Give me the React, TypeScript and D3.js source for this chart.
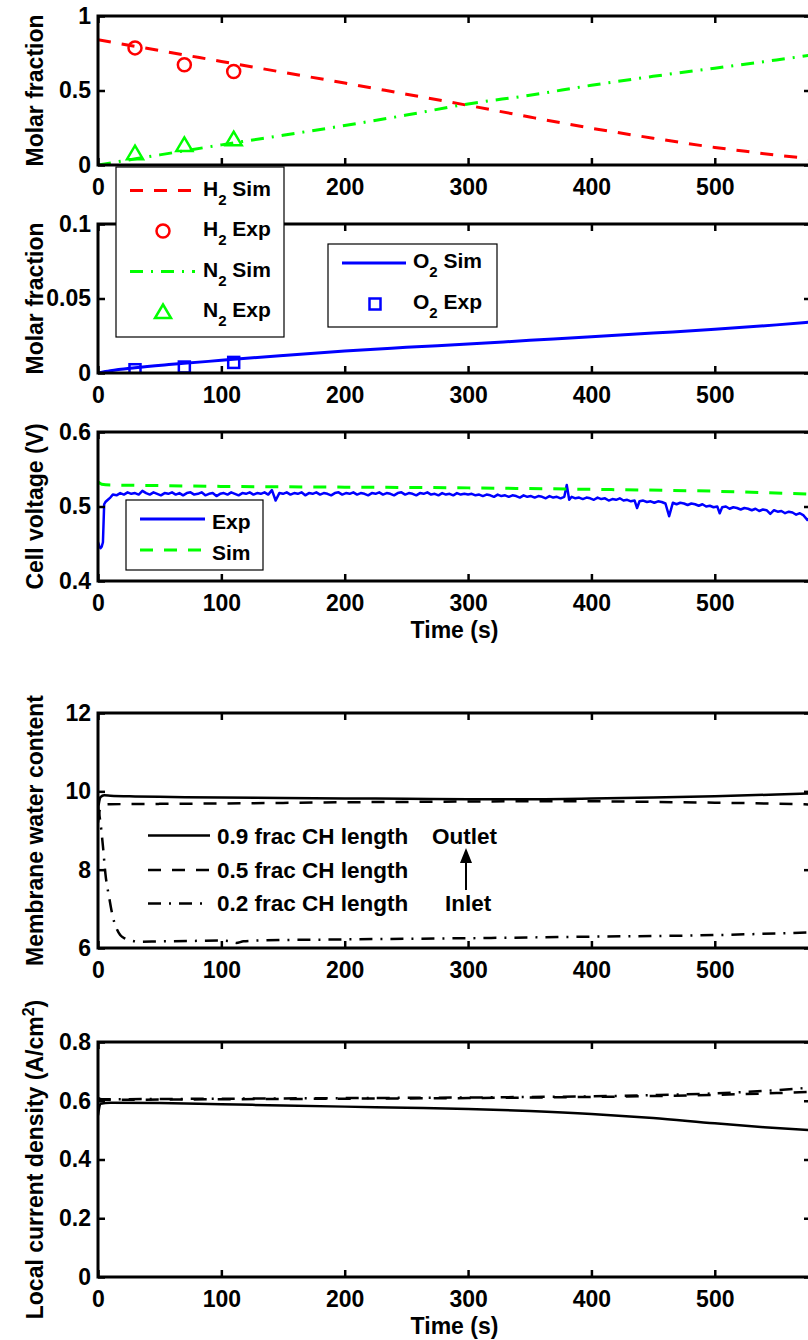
import React, { useEffect, useRef } from "react";
import * as d3 from "d3";

// ---------------- Data ----------------
const xTicks = [0, 100, 200, 300, 400, 500];
const xDomain = [0, 578];

// Panel 1: molar fraction (anode)
const h2SimTime = [0, 50, 100, 150, 200, 250, 300, 350, 400, 450, 500, 525, 550, 578];
const h2SimValue = [0.84, 0.768, 0.695, 0.622, 0.55, 0.475, 0.4, 0.322, 0.247, 0.18, 0.118, 0.092, 0.066, 0.045];
const h2ExpTime = [30, 70, 110];
const h2ExpValue = [0.786, 0.673, 0.628];
const n2SimTime = [0, 50, 100, 150, 200, 250, 300, 350, 400, 450, 500, 550, 578];
const n2SimValue = [0, 0.068, 0.135, 0.2, 0.265, 0.335, 0.41, 0.468, 0.535, 0.595, 0.65, 0.705, 0.738];
const n2ExpTime = [30, 70, 110];
const n2ExpValue = [0.079, 0.135, 0.173];

// Panel 2: O2
const o2SimTime = [0, 10, 30, 60, 100, 150, 200, 250, 300, 350, 400, 450, 500, 550, 578];
const o2SimValue = [0, 0.0015, 0.0035, 0.0058, 0.0085, 0.0118, 0.0148, 0.0172, 0.0195, 0.0219, 0.0243, 0.0268, 0.0293, 0.0323, 0.0342];
const o2ExpTime = [30, 70, 110];
const o2ExpValue = [0.0022, 0.004, 0.0071];

// Panel 3: cell voltage
const vSimTime = [0, 3, 10, 50, 100, 200, 300, 400, 500, 578];
const vSimValue = [0.533, 0.53, 0.529, 0.528, 0.527, 0.526, 0.525, 0.523, 0.5205, 0.5165];
// measured voltage as [time, value] pairs
const vExp: [number, number][] = [
  [0, 0.452], [1, 0.447], [2, 0.444], [3, 0.446], [4, 0.452], [5, 0.503], [6, 0.506], [8, 0.509], [10, 0.512], [12, 0.516],
  [15, 0.515], [18, 0.518], [21, 0.516], [24, 0.519], [27, 0.517], [30, 0.518], [33, 0.516], [36, 0.521], [39, 0.518], [42, 0.516],
  [45, 0.519], [48, 0.517], [51, 0.515], [54, 0.518], [57, 0.517], [60, 0.519], [63, 0.516], [66, 0.518], [69, 0.515], [72, 0.518],
  [75, 0.519], [78, 0.516], [81, 0.517], [84, 0.519], [87, 0.515], [90, 0.517], [93, 0.518], [96, 0.514], [99, 0.517], [102, 0.518],
  [105, 0.516], [108, 0.519], [111, 0.517], [114, 0.515], [117, 0.518], [120, 0.517], [123, 0.519], [126, 0.516], [129, 0.518], [132, 0.517],
  [135, 0.519], [138, 0.516], [141, 0.522], [144, 0.508], [147, 0.518], [150, 0.517], [153, 0.519], [156, 0.516], [159, 0.518], [162, 0.517],
  [165, 0.519], [168, 0.515], [171, 0.518], [174, 0.517], [177, 0.519], [180, 0.516], [183, 0.518], [186, 0.517], [189, 0.515], [192, 0.518],
  [195, 0.519], [198, 0.516], [201, 0.518], [204, 0.517], [207, 0.519], [210, 0.516], [213, 0.518], [216, 0.517], [219, 0.515], [222, 0.518],
  [225, 0.517], [228, 0.519], [231, 0.516], [234, 0.518], [237, 0.517], [240, 0.515], [243, 0.518], [246, 0.519], [249, 0.516], [252, 0.518],
  [255, 0.517], [258, 0.515], [261, 0.518], [264, 0.517], [267, 0.519], [270, 0.516], [273, 0.517], [276, 0.515], [279, 0.518], [282, 0.516],
  [285, 0.517], [288, 0.515], [291, 0.518], [294, 0.516], [297, 0.517],
  [300, 0.516], [303, 0.517], [306, 0.515], [309, 0.516], [312, 0.514], [315, 0.516], [318, 0.515], [321, 0.513], [324, 0.516], [327, 0.514],
  [330, 0.515], [333, 0.513], [336, 0.515], [339, 0.514], [342, 0.512], [345, 0.515], [348, 0.513], [351, 0.514], [354, 0.512], [357, 0.514],
  [360, 0.513], [363, 0.511], [366, 0.514], [369, 0.512], [372, 0.513], [375, 0.511], [378, 0.513], [380, 0.529], [382, 0.509], [384, 0.513],
  [387, 0.511], [390, 0.512], [393, 0.51], [396, 0.512], [399, 0.511], [402, 0.509], [405, 0.512], [408, 0.51], [411, 0.511], [414, 0.508],
  [417, 0.51], [420, 0.509], [423, 0.511], [426, 0.508], [429, 0.509], [432, 0.507], [435, 0.508], [437, 0.498], [439, 0.507], [442, 0.508],
  [445, 0.506], [448, 0.507], [451, 0.505], [454, 0.507], [457, 0.506], [460, 0.504], [463, 0.487], [466, 0.505], [469, 0.503], [472, 0.505],
  [475, 0.504], [478, 0.502], [481, 0.504], [484, 0.503], [487, 0.501], [490, 0.503], [493, 0.5], [496, 0.501], [499, 0.499], [502, 0.5],
  [504, 0.491], [506, 0.499], [509, 0.5], [512, 0.497], [515, 0.499], [518, 0.498], [521, 0.496], [524, 0.498], [527, 0.497], [530, 0.495],
  [533, 0.497], [536, 0.494], [539, 0.496], [542, 0.495], [545, 0.49], [548, 0.495], [551, 0.493], [554, 0.494], [557, 0.491], [560, 0.493],
  [563, 0.492], [566, 0.489], [569, 0.491], [572, 0.488], [575, 0.482], [578, 0.486],
];

// Panel 4: membrane water content
const w09Time = [0, 2, 5, 10, 30, 60, 100, 150, 200, 250, 300, 350, 400, 450, 500, 550, 578];
const w09Value = [9.55, 9.85, 9.9, 9.89, 9.87, 9.855, 9.84, 9.83, 9.82, 9.81, 9.8, 9.8, 9.815, 9.84, 9.875, 9.92, 9.95];
const w05Time = [0, 2, 4, 10, 50, 100, 150, 200, 250, 300, 350, 400, 450, 500, 550, 578];
const w05Value = [9.2, 9.6, 9.66, 9.67, 9.68, 9.69, 9.705, 9.72, 9.73, 9.74, 9.745, 9.745, 9.73, 9.71, 9.685, 9.665];
const w02Time = [0, 2, 4, 6, 9, 12, 15, 18, 22, 27, 33, 50, 75, 100, 108, 112, 118, 130, 200, 300, 400, 500, 578];
const w02Value = [9.6, 9.2, 8.6, 7.9, 7.3, 6.8, 6.5, 6.33, 6.24, 6.19, 6.16, 6.17, 6.18, 6.19, 6.17, 6.13, 6.17, 6.19, 6.22, 6.25, 6.29, 6.33, 6.4];

// Panel 5: local current density
const c09Time = [0, 2, 10, 50, 100, 150, 200, 250, 300, 350, 400, 450, 500, 540, 578];
const c09Value = [0.55, 0.59, 0.593, 0.592, 0.588, 0.584, 0.58, 0.576, 0.572, 0.565, 0.555, 0.541, 0.523, 0.51, 0.5];
const c05Time = [0, 3, 50, 100, 150, 200, 250, 300, 350, 400, 450, 500, 550, 578];
const c05Value = [0.598, 0.603, 0.604, 0.605, 0.606, 0.607, 0.608, 0.609, 0.611, 0.613, 0.616, 0.62, 0.626, 0.63];
const c02Time = [0, 3, 50, 100, 150, 200, 250, 300, 350, 400, 450, 500, 550, 578];
const c02Value = [0.61, 0.605, 0.606, 0.607, 0.608, 0.609, 0.61, 0.611, 0.613, 0.615, 0.619, 0.625, 0.636, 0.645];

const yTicks1 = [0, 0.5, 1];
const yTicks2 = [0, 0.05, 0.1];
const yTicks3 = [0.4, 0.5, 0.6];
const yTicks4 = [6, 8, 10, 12];
const yTicks5 = [0, 0.2, 0.4, 0.6, 0.8];

// ---------------- Style / layout ----------------
const FONT = "'Liberation Sans', Arial, Helvetica, sans-serif";
const LEFT = 98;
const RIGHT = 811;
const RED = "#ff0000";
const GREEN = "#00ff00";
const BLUE = "#0000ff";
const DASH = "13 11";
const DASHDOT = "13 8 2 8";

type Series = { t: number[]; v: number[]; color: string; dash?: string; width: number; curve?: boolean };
type Markers = { t: number[]; v: number[]; color: string; shape: "circle" | "triangle" | "square" };

export default function App() {
  const ref = useRef<SVGSVGElement | null>(null);

  useEffect(() => {
    const svg = d3.select(ref.current);
    svg.selectAll("*").remove();

    const x = d3.scaleLinear().domain(xDomain).range([LEFT, RIGHT]);

    const panels = [
      {
        top: 16, bottom: 165, yDomain: [0, 1], yTicks: yTicks1, label: "Molar fraction", hideX: [100],
        series: [
          { t: h2SimTime, v: h2SimValue, color: RED, dash: DASH, width: 3, curve: true },
          { t: n2SimTime, v: n2SimValue, color: GREEN, dash: DASHDOT, width: 3, curve: true },
        ] as Series[],
        markers: [
          { t: h2ExpTime, v: h2ExpValue, color: RED, shape: "circle" },
          { t: n2ExpTime, v: n2ExpValue, color: GREEN, shape: "triangle" },
        ] as Markers[],
      },
      {
        top: 224, bottom: 373, yDomain: [0, 0.1], yTicks: yTicks2, label: "Molar fraction",
        series: [{ t: o2SimTime, v: o2SimValue, color: BLUE, width: 3, curve: true }] as Series[],
        markers: [{ t: o2ExpTime, v: o2ExpValue, color: BLUE, shape: "square" }] as Markers[],
      },
      {
        top: 432, bottom: 581, yDomain: [0.4, 0.6], yTicks: yTicks3, label: "Cell voltage (V)", xLabel: true,
        series: [
          { t: vExp.map((d) => d[0]), v: vExp.map((d) => d[1]), color: BLUE, width: 2.5 },
          { t: vSimTime, v: vSimValue, color: GREEN, dash: DASH, width: 3, curve: true },
        ] as Series[],
        markers: [] as Markers[],
      },
      {
        top: 713, bottom: 948, yDomain: [6, 12], yTicks: yTicks4, label: "Membrane water content",
        series: [
          { t: w09Time, v: w09Value, color: "#000", width: 2.5, curve: true },
          { t: w05Time, v: w05Value, color: "#000", dash: DASH, width: 2.5, curve: true },
          { t: w02Time, v: w02Value, color: "#000", dash: DASHDOT, width: 2.5, curve: true },
        ] as Series[],
        markers: [] as Markers[],
      },
      {
        top: 1042, bottom: 1277, yDomain: [0, 0.8], yTicks: yTicks5, label: "Local current density (A/cm", sup: true, xLabel: true,
        series: [
          { t: c09Time, v: c09Value, color: "#000", width: 2.5, curve: true },
          { t: c05Time, v: c05Value, color: "#000", dash: DASH, width: 2.5, curve: true },
          { t: c02Time, v: c02Value, color: "#000", dash: DASHDOT, width: 2.5, curve: true },
        ] as Series[],
        markers: [] as Markers[],
      },
    ];

    const styleAxis = (g: any, labels: boolean) => {
      g.attr("font-size", 23).attr("font-family", FONT).attr("font-weight", "bold");
      g.select(".domain").remove();
      g.selectAll("line").attr("stroke", "#000").attr("stroke-width", 2.5);
      g.selectAll("text").attr("fill", "#000");
      if (!labels) g.selectAll("text").remove();
      return g;
    };

    const drawMarker = (g: any, shape: string, cx: number, cy: number, color: string) => {
      if (shape === "circle") {
        g.append("circle").attr("cx", cx).attr("cy", cy).attr("r", 6.5)
          .attr("fill", "none").attr("stroke", color).attr("stroke-width", 2.5);
      } else if (shape === "triangle") {
        g.append("path")
          .attr("d", `M${cx},${cy - 7.5}L${cx + 8},${cy + 6}L${cx - 8},${cy + 6}Z`)
          .attr("fill", "none").attr("stroke", color).attr("stroke-width", 2.5);
      } else {
        g.append("rect").attr("x", cx - 5.5).attr("y", cy - 5.5).attr("width", 11).attr("height", 11)
          .attr("fill", "none").attr("stroke", color).attr("stroke-width", 2.5);
      }
    };

    panels.forEach((p: any, i: number) => {
      const y = d3.scaleLinear().domain(p.yDomain).range([p.bottom, p.top]);
      const clipId = `clip-${i}`;
      svg.append("clipPath").attr("id", clipId).append("rect")
        .attr("x", LEFT).attr("y", p.top).attr("width", RIGHT - LEFT).attr("height", p.bottom - p.top);
      const g = svg.append("g").attr("clip-path", `url(#${clipId})`);

      p.series.forEach((s: Series) => {
        const line = d3.line<[number, number]>()
          .x((d) => x(d[0]))
          .y((d) => y(d[1]))
          .curve(s.curve ? d3.curveMonotoneX : d3.curveLinear);
        g.append("path")
          .datum(d3.zip(s.t, s.v) as [number, number][])
          .attr("d", line)
          .attr("fill", "none")
          .attr("stroke", s.color)
          .attr("stroke-width", s.width)
          .attr("stroke-linejoin", "round")
          .attr("stroke-dasharray", s.dash || null);
      });
      p.markers.forEach((m: Markers) => {
        m.t.forEach((t, k) => drawMarker(g, m.shape, x(t), y(m.v[k]), m.color));
      });

      // axes
      const fmtX = d3.format("d");
      const fmtY = d3.format("~g");
      const bx = styleAxis(svg.append("g").attr("transform", `translate(0,${p.bottom})`)
        .call(d3.axisBottom(x).tickValues(xTicks).tickSize(-7).tickPadding(14).tickFormat(fmtX as any)), true);
      if (p.hideX) {
        bx.selectAll(".tick").filter((d: number) => p.hideX.includes(d)).select("text").remove();
      }
      styleAxis(svg.append("g").attr("transform", `translate(0,${p.top})`)
        .call(d3.axisTop(x).tickValues(xTicks).tickSize(-7)), false);
      styleAxis(svg.append("g").attr("transform", `translate(${LEFT},0)`)
        .call(d3.axisLeft(y).tickValues(p.yTicks).tickSize(-7).tickPadding(7).tickFormat(fmtY as any)), true);
      styleAxis(svg.append("g").attr("transform", `translate(${RIGHT},0)`)
        .call(d3.axisRight(y).tickValues(p.yTicks).tickSize(-7)), false);

      svg.append("rect").attr("x", LEFT).attr("y", p.top).attr("width", RIGHT - LEFT).attr("height", p.bottom - p.top)
        .attr("fill", "none").attr("stroke", "#000").attr("stroke-width", 3);

      // y label
      const yl = svg.append("text")
        .attr("transform", `translate(43,${(p.top + p.bottom) / 2}) rotate(-90)`)
        .attr("text-anchor", "middle").attr("font-family", FONT).attr("font-weight", "bold")
        .attr("font-size", 23).attr("fill", "#000");
      yl.append("tspan").text(p.label);
      if (p.sup) {
        yl.append("tspan").attr("font-size", 16).attr("dy", -9).text("2");
        yl.append("tspan").attr("dy", 9).text(")");
      }
      if (p.xLabel) {
        svg.append("text").attr("x", (LEFT + RIGHT) / 2).attr("y", p.bottom + 57)
          .attr("text-anchor", "middle").attr("font-family", FONT).attr("font-weight", "bold")
          .attr("font-size", 23).attr("fill", "#000").text("Time (s)");
      }
    });

    // ---------- legends ----------
    const subText = (g: any, xPos: number, base: number, a: string, b: string, size: number) => {
      const t = g.append("text").attr("x", xPos).attr("y", base).attr("font-family", FONT)
        .attr("font-weight", "bold").attr("font-size", size).attr("fill", "#000");
      t.append("tspan").text(a);
      t.append("tspan").attr("font-size", 15).attr("dy", 9).text("2");
      t.append("tspan").attr("dy", -9).text(b);
    };
    const plainText = (g: any, xPos: number, base: number, s: string, size: number) =>
      g.append("text").attr("x", xPos).attr("y", base).attr("font-family", FONT)
        .attr("font-weight", "bold").attr("font-size", size).attr("fill", "#000").text(s);
    const sample = (g: any, x1: number, x2: number, yy: number, color: string, w: number, dash?: string) =>
      g.append("line").attr("x1", x1).attr("x2", x2).attr("y1", yy).attr("y2", yy)
        .attr("stroke", color).attr("stroke-width", w).attr("stroke-dasharray", dash || null);
    const box = (g: any, x1: number, y1: number, x2: number, y2: number) =>
      g.append("rect").attr("x", x1).attr("y", y1).attr("width", x2 - x1).attr("height", y2 - y1)
        .attr("fill", "#fff").attr("stroke", "#000").attr("stroke-width", 1.2);

    const lg = svg.append("g");
    // Legend 1
    box(lg, 116, 167, 284, 337);
    sample(lg, 130, 195, 190.5, RED, 3, DASH);
    subText(lg, 203, 195.5, "H", " Sim", 21);
    drawMarker(lg, "circle", 163, 231, RED);
    subText(lg, 203, 236, "H", " Exp", 21);
    sample(lg, 130, 195, 271.5, GREEN, 3, DASHDOT);
    subText(lg, 203, 276.5, "N", " Sim", 21);
    drawMarker(lg, "triangle", 163, 312, GREEN);
    subText(lg, 203, 317, "N", " Exp", 21);

    // Legend 2
    box(lg, 328, 244, 497, 327);
    sample(lg, 342, 406, 263, BLUE, 3);
    subText(lg, 413, 268, "O", " Sim", 21);
    drawMarker(lg, "square", 375, 304, BLUE);
    subText(lg, 413, 309, "O", " Exp", 21);

    // Legend 3
    box(lg, 126, 500, 263, 570);
    sample(lg, 140, 205, 519, BLUE, 3);
    plainText(lg, 212, 529, "Exp", 21);
    sample(lg, 140, 205, 550, GREEN, 3, DASH);
    plainText(lg, 212, 560, "Sim", 21);

    // Legend 4 (no box)
    sample(lg, 148, 210, 835.5, "#000", 2.5);
    plainText(lg, 217, 844, "0.9 frac CH length", 22.5);
    sample(lg, 148, 210, 870, "#000", 2.5, DASH);
    plainText(lg, 217, 878, "0.5 frac CH length", 22.5);
    sample(lg, 148, 210, 903.5, "#000", 2.5, DASHDOT);
    plainText(lg, 217, 911, "0.2 frac CH length", 22.5);
    plainText(lg, 432, 844, "Outlet", 22.5);
    plainText(lg, 445, 911, "Inlet", 22.5);
    lg.append("line").attr("x1", 466).attr("x2", 466).attr("y1", 890).attr("y2", 860)
      .attr("stroke", "#000").attr("stroke-width", 2);
    lg.append("path").attr("d", "M466,848L460,863L472,863Z").attr("fill", "#000");
  }, []);

  return (
    <svg
      ref={ref}
      width={808}
      height={1340}
      style={{ position: "absolute", left: 0, top: 0, display: "block", background: "#fff" }}
    />
  );
}
